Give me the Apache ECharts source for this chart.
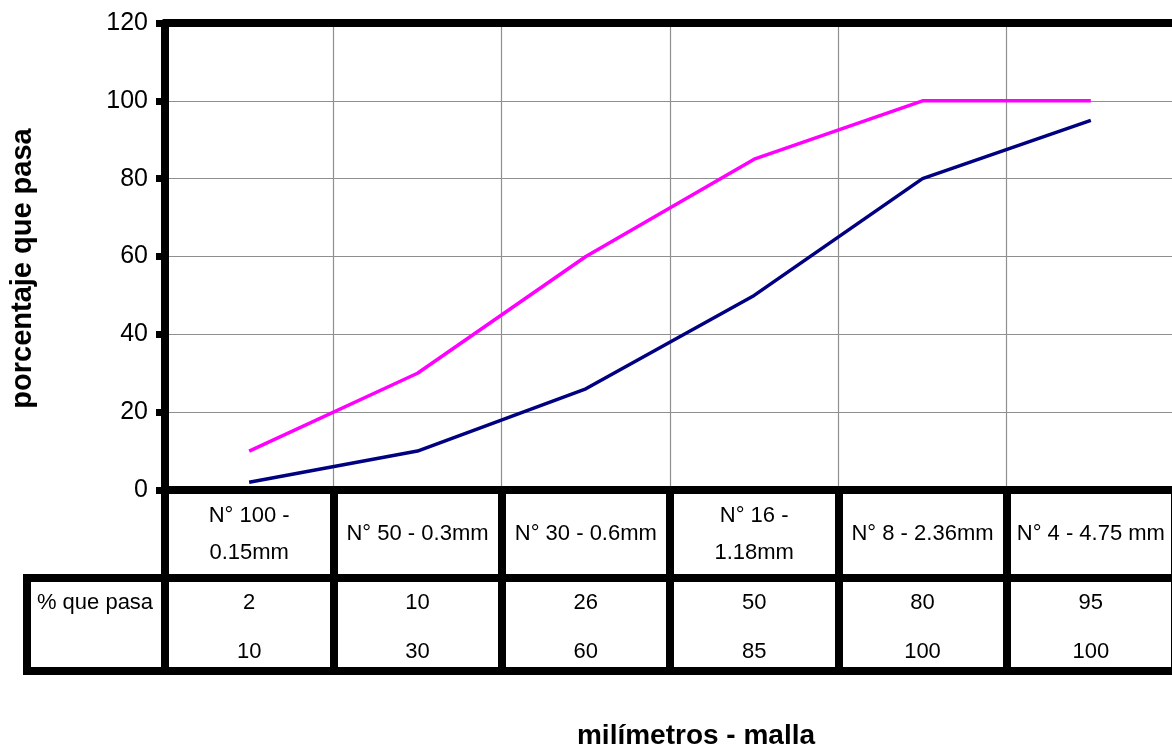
<!DOCTYPE html>
<html>
<head>
<meta charset="utf-8">
<script src="https://cdn.jsdelivr.net/npm/echarts@6/dist/echarts.min.js"></script>
<style>
html,body{margin:0;padding:0;background:#fff;}
#chart{width:1172px;height:749px;}
</style>
</head>
<body>
<div id="chart"></div>
<script>
const categories = ['N° 100 -\n0.15mm', 'N° 50 - 0.3mm', 'N° 30 - 0.6mm', 'N° 16 -\n1.18mm', 'N° 8 - 2.36mm', 'N° 4 - 4.75 mm'];
const lowerLimit = [2, 10, 26, 50, 80, 95];
const upperLimit = [10, 30, 60, 85, 100, 100];
const yTicks = { min: 0, max: 120, interval: 20 };
const rowHeader = '% que pasa';
const yTitle = 'porcentaje que pasa';
const xTitle = 'milímetros - malla';

const FONT = '"Liberation Sans", Arial, sans-serif';
const chart = echarts.init(document.getElementById('chart'));
const thick = { color: '#000', width: 8 };
const gridLine = { show: true, interval: 0, lineStyle: { color: '#8f8f8f', width: 1.2 } };

chart.setOption({
  animation: false,
  backgroundColor: '#fff',
  grid: { left: 165, top: 23, width: 1010, height: 467, containLabel: false, outerBoundsMode: 'none' },
  xAxis: [
    {
      type: 'category', data: categories, boundaryGap: true, position: 'bottom',
      axisLine: { show: true, lineStyle: thick },
      axisTick: { show: true, interval: 0, length: 88, lineStyle: thick },
      axisLabel: { interval: 0, fontFamily: FONT, fontSize: 22, lineHeight: 37, color: '#000', verticalAlign: 'middle', margin: 44 },
      splitLine: gridLine
    },
    {
      type: 'category', data: categories, boundaryGap: true, position: 'top',
      axisLine: { show: true, lineStyle: thick },
      axisTick: { show: false }, axisLabel: { show: false }, splitLine: { show: false }
    },
    {
      type: 'category', data: lowerLimit.map(String), boundaryGap: true, position: 'bottom', offset: 88,
      axisLine: { show: true, lineStyle: thick },
      axisTick: { show: true, interval: 0, length: 93, lineStyle: thick },
      axisLabel: { interval: 0, fontFamily: FONT, fontSize: 22, color: '#000', verticalAlign: 'middle', margin: 25 },
      splitLine: { show: false }
    },
    {
      type: 'category', data: upperLimit.map(String), boundaryGap: true, position: 'bottom', offset: 88,
      axisLine: { show: false }, axisTick: { show: false },
      axisLabel: { interval: 0, fontFamily: FONT, fontSize: 22, color: '#000', verticalAlign: 'middle', margin: 74 },
      splitLine: { show: false }
    }
  ],
  yAxis: {
    type: 'value', min: yTicks.min, max: yTicks.max, interval: yTicks.interval,
    name: yTitle, nameLocation: 'middle', nameGap: 128, nameRotate: 90,
    nameTextStyle: { fontFamily: FONT, fontSize: 29, fontWeight: 'bold', color: '#000', padding: [0, 24, 0, 0] },
    axisLine: { show: true, lineStyle: thick },
    axisTick: { show: true, length: 9, lineStyle: { color: '#000', width: 7 } },
    axisLabel: { fontFamily: FONT, fontSize: 25, color: '#000', margin: 17 },
    splitLine: gridLine
  },
  series: [
    { type: 'line', data: upperLimit, xAxisIndex: 0, symbol: 'none', lineStyle: { color: '#ff00ff', width: 3.5 }, z: 3 },
    { type: 'line', data: lowerLimit, xAxisIndex: 0, symbol: 'none', lineStyle: { color: '#000080', width: 3.5 }, z: 3 }
  ],
  graphic: [
    { type: 'line', shape: { x1: 23, y1: 578, x2: 166, y2: 578 }, style: { stroke: '#000', lineWidth: 8 } },
    { type: 'line', shape: { x1: 23, y1: 671, x2: 1172, y2: 671 }, style: { stroke: '#000', lineWidth: 8 } },
    { type: 'line', shape: { x1: 27, y1: 574, x2: 27, y2: 675 }, style: { stroke: '#000', lineWidth: 8 } },
    { type: 'text', x: 95, y: 603, style: { text: rowHeader, font: '22px ' + FONT, fill: '#000', align: 'center', verticalAlign: 'middle' } },
    { type: 'text', x: 696, y: 736, style: { text: xTitle, font: 'bold 28px ' + FONT, fill: '#000', align: 'center', verticalAlign: 'middle' } }
  ]
});
</script>
</body>
</html>
